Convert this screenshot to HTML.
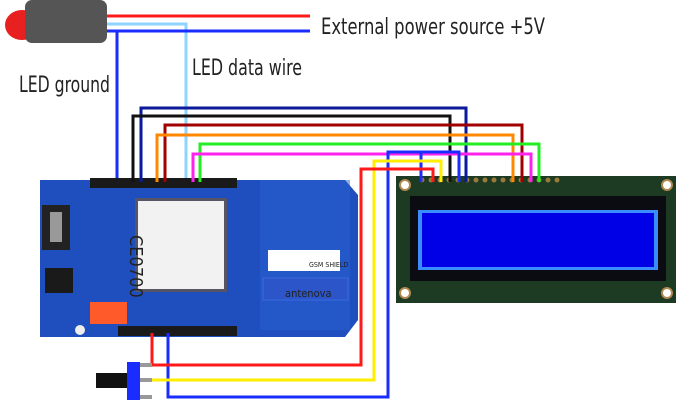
<!DOCTYPE html>
<html><head><meta charset="utf-8"><style>
html,body{margin:0;padding:0;background:#fff;width:680px;height:400px;overflow:hidden}
svg{display:block}
text{font-family:"DejaVu Sans Condensed","Liberation Sans Narrow","Liberation Sans",sans-serif;fill:#222}
</style></head><body>
<svg width="680" height="400" viewBox="0 0 680 400" xmlns="http://www.w3.org/2000/svg">
<!-- LED -->
<ellipse cx="22" cy="25" rx="17" ry="15" fill="#e82020"/>
<rect x="25" y="0" width="82" height="43" rx="7" fill="#555"/>
<!-- top wires -->
<g fill="none" stroke-width="3">
<polyline points="107,16 310,16" stroke="#ff1a1a"/>
<polyline points="107,24 186,24 186,182" stroke="#8fd3ff"/>
<polyline points="107,31 310,31" stroke="#1a2cff"/>
<polyline points="117,31 117,182" stroke="#1a2cff"/>
</g>
<text x="321" y="34" font-size="22" textLength="224" lengthAdjust="spacingAndGlyphs">External power source +5V</text>
<text x="192" y="75" font-size="22" textLength="110" lengthAdjust="spacingAndGlyphs">LED data wire</text>
<text x="19" y="92" font-size="22" textLength="91" lengthAdjust="spacingAndGlyphs">LED ground</text>
<!-- Shield board -->
<path d="M40,180 L345,180 L358,195 L358,320 L345,337 L40,337 Z" fill="#1f4fbf"/>
<rect x="260" y="180" width="90" height="150" fill="#2a5fd0" opacity="0.5"/>
<rect x="90" y="178" width="147" height="10" fill="#1a1a1a"/>
<rect x="118" y="326" width="119" height="10" fill="#1a1a1a"/>
<rect x="42" y="205" width="28" height="45" fill="#222"/>
<rect x="50" y="212" width="12" height="30" fill="#999"/>
<rect x="45" y="268" width="28" height="25" fill="#1a1a1a"/>
<rect x="135" y="198" width="92" height="94" fill="#556"/>
<rect x="138" y="201" width="86" height="88" fill="#f2f2f2"/>
<text x="150" y="275" font-size="18" fill="#111" transform="rotate(90 160 245)">CE0700</text>
<rect x="268" y="250" width="72" height="21" fill="#fff"/>
<text x="309" y="267" font-size="7" fill="#1f4fbf">GSM SHIELD</text>
<rect x="263" y="278" width="85" height="22" fill="#2b55c8" stroke="#3a6ae0"/>
<text x="285" y="297" font-size="11" fill="#fff">antenova</text>
<rect x="90" y="302" width="37" height="22" fill="#ff5a2a"/>
<circle cx="80" cy="330" r="5" fill="#eee"/>
<!-- LCD -->
<rect x="396" y="176" width="280" height="127" fill="#1d3a22"/>
<rect x="410" y="196" width="256" height="85" fill="#0b0b12"/>
<rect x="418" y="210" width="240" height="60" fill="#3a8cff"/>
<rect x="422" y="213" width="232" height="54" fill="#0000e6"/>
<g fill="#fff" stroke="#b08850" stroke-width="2">
<circle cx="405" cy="185" r="5"/><circle cx="667" cy="185" r="5"/>
<circle cx="405" cy="293" r="5"/><circle cx="667" cy="293" r="5"/>
</g>
<g fill="#9a7a3a">
<circle cx="422" cy="180" r="2.5"/><circle cx="431" cy="180" r="2.5"/><circle cx="440" cy="180" r="2.5"/><circle cx="449" cy="180" r="2.5"/><circle cx="458" cy="180" r="2.5"/><circle cx="467" cy="180" r="2.5"/><circle cx="476" cy="180" r="2.5"/><circle cx="485" cy="180" r="2.5"/><circle cx="494" cy="180" r="2.5"/><circle cx="503" cy="180" r="2.5"/><circle cx="512" cy="180" r="2.5"/><circle cx="521" cy="180" r="2.5"/><circle cx="530" cy="180" r="2.5"/><circle cx="539" cy="180" r="2.5"/><circle cx="548" cy="180" r="2.5"/><circle cx="557" cy="180" r="2.5"/>
</g>
<!-- LCD wires -->
<g fill="none" stroke-width="3">
<polyline points="141,182 141,108 466,108 466,182" stroke="#0a1a9a"/>
<polyline points="133,182 133,116 450,116 450,182" stroke="#111"/>
<polyline points="165,182 165,125 522,125 522,182" stroke="#a00000"/>
<polyline points="157,182 157,135 513,135 513,182" stroke="#ff8800"/>
<polyline points="200,182 200,144 539,144 539,182" stroke="#22ee22"/>
<polyline points="193,182 193,154 531,154 531,182" stroke="#ff22ee"/>
<polyline points="168,333 168,397 388,397 388,152 459,152 459,182" stroke="#1a2cff"/>
<polyline points="421,152 421,182" stroke="#1a2cff"/>
<polyline points="150,380 374,380 374,161 441,161 441,182" stroke="#ffee00"/>
<polyline points="152,333 152,365 361,365 361,169 433,169 433,182" stroke="#ff1a1a"/>
</g>
<!-- potentiometer -->
<rect x="96" y="373" width="32" height="15" fill="#111"/>
<rect x="127" y="362" width="13" height="38" fill="#1a2cff"/>
<g fill="#999"><rect x="140" y="363" width="12" height="4"/><rect x="140" y="378" width="12" height="4"/><rect x="140" y="395" width="12" height="4"/></g>
</svg>
</body></html>
